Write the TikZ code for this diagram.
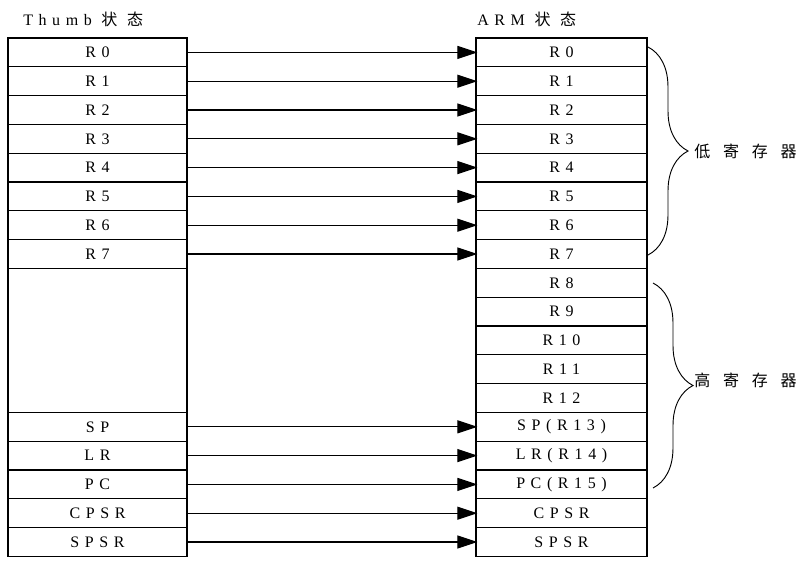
\documentclass[tikz,border=0pt]{standalone}
\usepackage{fontspec}
\setmainfont[LetterSpace=35]{Liberation Serif}
\newfontfamily\cjk[LetterSpace=60]{Noto Sans CJK SC}
\newfontfamily\cjkwide[LetterSpace=80]{Noto Sans CJK SC}
\usetikzlibrary{arrows.meta,decorations.pathreplacing}
\tikzset{
	txt/.style={inner sep=0pt, font=\fontsize{12}{14}\selectfont},
	reg/.style={txt, draw, line width=0.9pt, minimum height=21.6pt},
	lreg/.style={reg, minimum width=134.25pt},
	rreg/.style={reg, minimum width=128.25pt},
	link/.style={line width=0.8pt, shorten >=-1.5pt, -{Triangle[length=15pt,width=9.75pt]}},
	grp/.style={line width=0.7pt, decorate, decoration={brace, amplitude=30pt}},
}
\begin{document}
\begin{tikzpicture}[x=0.75pt, y=-0.75pt]
			\useasboundingbox (0,0) rectangle (807,572);
			\node[txt, anchor=base west] (lhead) at (23,25) {Thumb \cjk 状态};
			\node[txt, anchor=base west] (rhead) at (477,25) {ARM \cjk 状态};
			\foreach \i/\t in {0/R0,1/R1,2/R2,3/R3,4/R4,5/R5,6/R6,7/R7,13/SP,14/LR,15/PC,16/CPSR,17/SPSR}{
				\node[lreg] (l\i) at (97.5, 52.4+\i*28.8) {\t};
			}
			\node[lreg, minimum height=108pt] (lgap) at (97.5, 340.4) {};
			\foreach \i/\t in {0/R0,1/R1,2/R2,3/R3,4/R4,5/R5,6/R6,7/R7,8/R8,9/R9,10/R10,11/R11,12/R12,13/SP(R13),14/LR(R14),15/PC(R15),16/CPSR,17/SPSR}{
				\node[rreg] (r\i) at (561.5, 52.4+\i*28.8) {\t};
			}
			\foreach \i in {0,...,7,13,14,...,17}{
				\draw[link] (l\i.east) -- (r\i.west);
			}
			\coordinate (lowtop) at (648,47);
			\coordinate (lowbot) at (648,255);
			\coordinate (hightop) at (653,283);
			\coordinate (highbot) at (653,488);
			\draw[grp] (lowtop) -- (lowbot);
			\draw[grp] (hightop) -- (highbot);
			\node[txt, anchor=west] (low) at (694,151) {\cjkwide 低寄存器};
			\node[txt, anchor=west] (high) at (694,380) {\cjkwide 高寄存器};
		\end{tikzpicture}
\end{document}
